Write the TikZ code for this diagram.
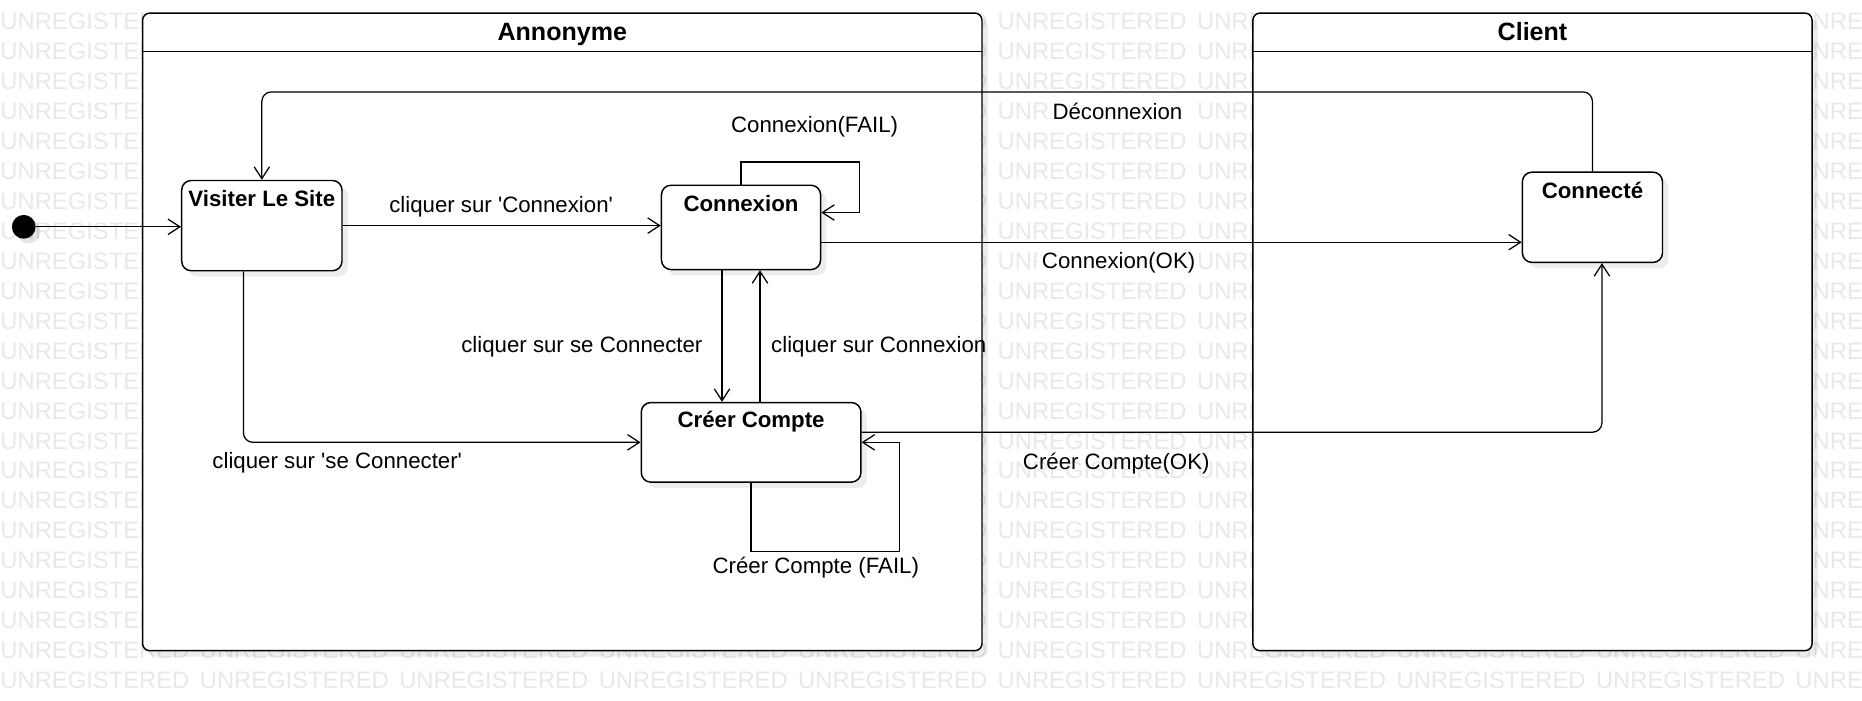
\documentclass[tikz,border=0pt]{standalone}
\usepackage{fontspec}
\setmainfont{Liberation Sans}
\usetikzlibrary{arrows.meta,calc,shadows}
\newcommand\wmword{\makebox[3.36cm][l]{UNREGISTERED}}
\newcommand\wmrow{\wmword\wmword\wmword\wmword\wmword\wmword\wmword\wmword\wmword\wmword}
\newcommand\sq{\textquotesingle}
\begin{document}
\begin{tikzpicture}[x=0.02cm,y=-0.02cm,
  wm/.style={anchor=west, inner sep=0pt, text=black!9, font=\fontsize{11.4pt}{13pt}\selectfont},
  frame/.style={draw, fill=white, line width=0.7pt, rounded corners=0.12cm,
    drop shadow={shadow xshift=0.1cm, shadow yshift=-0.1cm, fill=black, opacity=0.07}},
  state/.style={draw, fill=white, line width=0.7pt, rounded corners=0.16cm,
    drop shadow={shadow xshift=0.1cm, shadow yshift=-0.1cm, fill=black, opacity=0.07}},
  initst/.style={circle, fill=black, minimum size=0.4cm, inner sep=0pt,
    drop shadow={shadow xshift=0.08cm, shadow yshift=-0.08cm, fill=black, opacity=0.1}},
  ttl/.style={inner sep=0pt, font=\fontsize{12pt}{14pt}\selectfont\bfseries},
  stt/.style={inner sep=0pt, font=\fontsize{10.66pt}{12.8pt}\selectfont\bfseries},
  lbl/.style={inner sep=0pt, font=\fontsize{10.66pt}{12.8pt}\selectfont},
  wlbl/.style={lbl, fill=white, inner sep=2pt},
  sep/.style={line width=0.7pt},
  arr/.style={line width=0.6pt, -{Straight Barb[length=0.2cm, width=0.26cm]}},
  rc/.style={rounded corners=0.16cm}
]
\useasboundingbox (0,0) rectangle (1568,590);
% watermark
\begin{scope}
\clip (0,0) rectangle (1568,590);
\foreach \r in {0,...,22}{\node[wm] (wm\r) at (0,{18+25.23*\r}) {\wmrow};}
\end{scope}
% frames
\node[frame, minimum width=14.14cm, minimum height=10.74cm] (ann) at (473.5,279.5) {};
\coordinate (annl) at ($(ann.north west)+(0,33)$);
\draw[sep] (annl) -- (annl -| ann.east);
\node[ttl] (annt) at ($(ann.north)+(0,19)$) {Annonyme};
\node[frame, minimum width=9.42cm, minimum height=10.74cm] (cli) at (1290.5,279.5) {};
\coordinate (clil) at ($(cli.north west)+(0,33)$);
\draw[sep] (clil) -- (clil -| cli.east);
\node[ttl] (clit) at ($(cli.north)+(0,16)$) {Client};
% states
\node[initst] (ini) at (20,191) {};
\node[state, minimum width=2.7cm, minimum height=1.52cm] (vis) at (220.5,190) {};
\node[stt] (vist) at ($(vis.north)+(0,16)$) {Visiter Le Site};
\node[state, minimum width=2.68cm, minimum height=1.42cm] (cx) at (624,191.5) {};
\node[stt] (cxt) at ($(cx.north)+(0,16)$) {Connexion};
\node[state, minimum width=3.7cm, minimum height=1.34cm] (cc) at (632.5,372.5) {};
\node[stt] (cct) at ($(cc.north)+(0,16.5)$) {Créer Compte};
\node[state, minimum width=2.36cm, minimum height=1.52cm] (co) at (1341,183) {};
\node[stt] (cot) at ($(co.north)+(0,16)$) {Connecté};
% connectors
\draw[arr] (ini.east) -- (ini.east -| vis.west);
\draw[arr] (vis.east) -- (vis.east -| cx.west);
\draw[arr] (cx.north) -- ++(0,-19) -| ($(cx.east)+(32,-12.5)$) -- ($(cx.east)+(0,-12.5)$);
\coordinate (a4) at ($(cx.east)+(0,12.5)$);
\draw[arr] (a4) -- (a4 -| co.west);
\draw[arr, rc] (co.north) -- ++(0,-67) -| (vis.north);
\coordinate (a6) at ($(cx.south)+(-16,0)$);
\draw[arr] (a6) -- (a6 |- cc.north);
\coordinate (a7) at ($(cc.north)+(7.5,0)$);
\draw[arr] (a7) -- (a7 |- cx.south);
\coordinate (a8) at ($(vis.south)+(-15.5,0)$);
\draw[arr, rc] (a8) |- (cc.west);
\draw[arr] (cc.south) -- ++(0,58) -| ($(cc.east)+(32,0)$) -- (cc.east);
\coordinate (a10) at ($(cc.east)+(0,-8.5)$);
\coordinate (b10) at ($(co.south)+(8,0)$);
\draw[arr, rc] (a10) -| (b10);
% labels
\node[lbl] (l1) at (422,174) {cliquer sur \sq Connexion\sq};
\node[lbl] (l2) at (686,107) {Connexion(FAIL)};
\node[wlbl] (l3) at (942,221) {Connexion(OK)};
\node[wlbl] (l4) at (941,94) {Déconnexion};
\node[lbl] (l5) at (490,292) {cliquer sur se Connecter};
\node[lbl] (l6) at (740,292) {cliquer sur Connexion};
\node[lbl] (l7) at (284,390) {cliquer sur \sq se Connecter\sq};
\node[lbl] (l8) at (687,478) {Créer Compte (FAIL)};
\node[lbl] (l9) at (940,390) {Créer Compte(OK)};
\end{tikzpicture}
\end{document}
